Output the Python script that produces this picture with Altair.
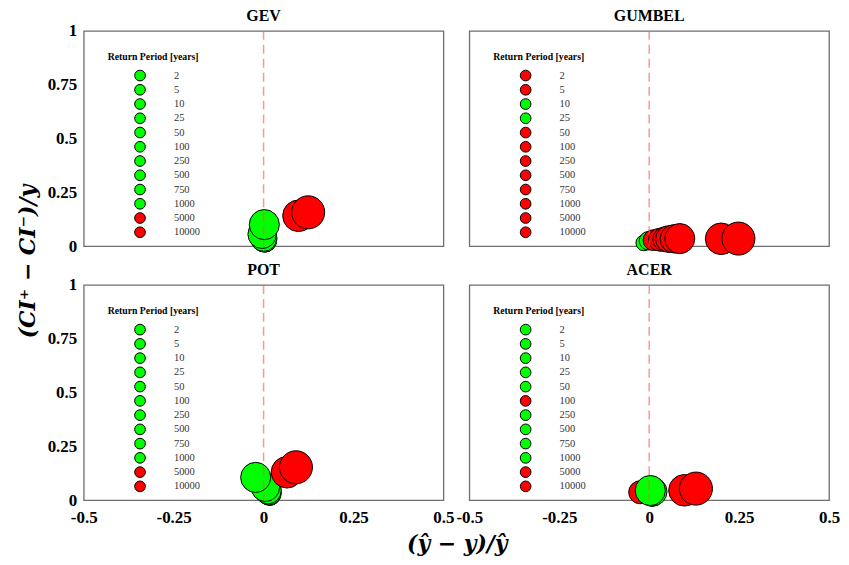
import altair as alt
import pandas as pd

return_periods = ["2", "5", "10", "25", "50", "100", "250", "500", "750", "1000", "5000", "10000"]
panel_names = ["GEV", "GUMBEL", "POT", "ACER"]

gev_x = [0.004, 0.005, 0.006, 0.006, 0.005, 0.004, 0.002, 0.0, -0.004, 0.002, 0.097, 0.124]
gev_y = [0.010, 0.012, 0.015, 0.018, 0.022, 0.026, 0.030, 0.038, 0.055, 0.100, 0.141, 0.157]
gev_status = ["in", "in", "in", "in", "in", "in", "in", "in", "in", "in", "out", "out"]

gumbel_x = [-0.005, -0.010, -0.015, -0.002, 0.012, 0.030, 0.045, 0.055, 0.070, 0.085, 0.200, 0.248]
gumbel_y = [0.010, 0.012, 0.015, 0.025, 0.028, 0.030, 0.032, 0.033, 0.034, 0.035, 0.034, 0.035]
gumbel_status = ["out", "out", "in", "in", "out", "out", "out", "out", "out", "out", "out", "out"]

pot_x = [0.018, 0.020, 0.020, 0.019, 0.018, 0.016, 0.015, 0.012, 0.005, -0.022, 0.065, 0.090]
pot_y = [0.010, 0.012, 0.015, 0.020, 0.025, 0.030, 0.036, 0.045, 0.060, 0.106, 0.130, 0.153]
pot_status = ["in", "in", "in", "in", "in", "in", "in", "in", "in", "in", "out", "out"]

acer_x = [0.005, 0.005, 0.006, 0.006, 0.007, -0.025, 0.008, 0.008, 0.010, 0.003, 0.098, 0.130]
acer_y = [0.010, 0.014, 0.018, 0.022, 0.026, 0.037, 0.030, 0.034, 0.040, 0.045, 0.046, 0.054]
acer_status = ["in", "in", "in", "in", "in", "out", "in", "in", "in", "in", "out", "out"]

x_ticks = [-0.5, -0.25, 0, 0.25, 0.5]
y_ticks = [0, 0.25, 0.5, 0.75, 1]

status_color = {"in": "#00ff00", "out": "#ff0000"}
SERIF = "Liberation Serif"


def panel(name, xs, ys, status, show_x, show_y):
    df = pd.DataFrame({"rp": return_periods, "idx": list(range(len(return_periods))), "x": xs, "y": ys})
    colors = [status_color[s] for s in status]
    xscale = alt.Scale(domain=[-0.5, 0.5], nice=False, zero=False)
    yscale = alt.Scale(domain=[0, 1], nice=False, zero=False)
    xaxis = alt.Axis(values=x_ticks, labels=show_x, title=None, labelExpr="'' + datum.value",
                     labelFlush=False, labelPadding=9)
    yaxis = alt.Axis(values=y_ticks, labels=show_y, title=None, labelExpr="'' + datum.value",
                     labelPadding=7)
    pts = alt.Chart(df).mark_circle(opacity=1, stroke="black", strokeWidth=1).encode(
        x=alt.X("x:Q", scale=xscale, axis=xaxis),
        y=alt.Y("y:Q", scale=yscale, axis=yaxis),
        color=alt.Color(
            "rp:N",
            scale=alt.Scale(domain=return_periods, range=colors),
            legend=alt.Legend(
                title="Return Period [years]",
                orient="none", legendX=24, legendY=21,
                titleFont=SERIF, titleFontSize=9.8, titleFontWeight="bold", titleColor="black",
                labelFont=SERIF, labelFontSize=10.5, labelColor="#333333",
                symbolType="circle", symbolSize=115, symbolStrokeColor="black",
                symbolStrokeWidth=1, symbolOpacity=1, symbolOffset=26.5, labelOffset=28,
                rowPadding=-1.7, titlePadding=8, padding=0,
            ),
        ),
        size=alt.Size("idx:Q", scale=alt.Scale(domain=[0, 11], range=[60, 1100]), legend=None),
    )
    rule = alt.Chart(pd.DataFrame({"x": [0.0]})).mark_rule(
        color="#ff5050", strokeDash=[9, 5], strokeWidth=1.5, opacity=0.6
    ).encode(x=alt.X("x:Q", scale=xscale, axis=xaxis))
    return alt.layer(pts, rule).properties(
        width=361, height=216,
        title=alt.TitleParams(name, font=SERIF, fontSize=16, fontWeight="bold", color="black",
                              offset=(-2 if show_y else 6)),
    )


gev = panel("GEV", gev_x, gev_y, gev_status, False, True)
gumbel = panel("GUMBEL", gumbel_x, gumbel_y, gumbel_status, False, False)
pot = panel("POT", pot_x, pot_y, pot_status, True, True)
acer = panel("ACER", acer_x, acer_y, acer_status, True, False)

grid = alt.concat(
    gev, gumbel, pot, acer, columns=2, spacing={"row": 39, "column": 26}, bounds="flush",
    title=alt.TitleParams("(CI⁺ − CI⁻)/y", orient="left", anchor="middle", font="DejaVu Serif",
                          fontSize=22, fontStyle="italic", fontWeight="bold", color="black",
                          offset=7, dx=5),
).resolve_scale(color="independent")

chart = alt.vconcat(
    grid,
    title=alt.TitleParams("(ŷ − y)/ŷ", orient="bottom", anchor="middle", font="DejaVu Serif",
                          fontSize=22, fontStyle="italic", fontWeight="bold", color="black",
                          offset=8, dx=29),
    padding={"left": 8, "top": -2, "right": 0, "bottom": 0},
).resolve_scale(color="independent").configure_view(
    stroke="#6e6e6e", strokeWidth=1.3
).configure_axis(
    domain=False, grid=False, ticks=False, labelFont=SERIF, labelFontSize=17,
    labelFontWeight="bold", labelColor="black",
)

chart.save("out.html", embed_options={"renderer": "svg", "actions": False})
